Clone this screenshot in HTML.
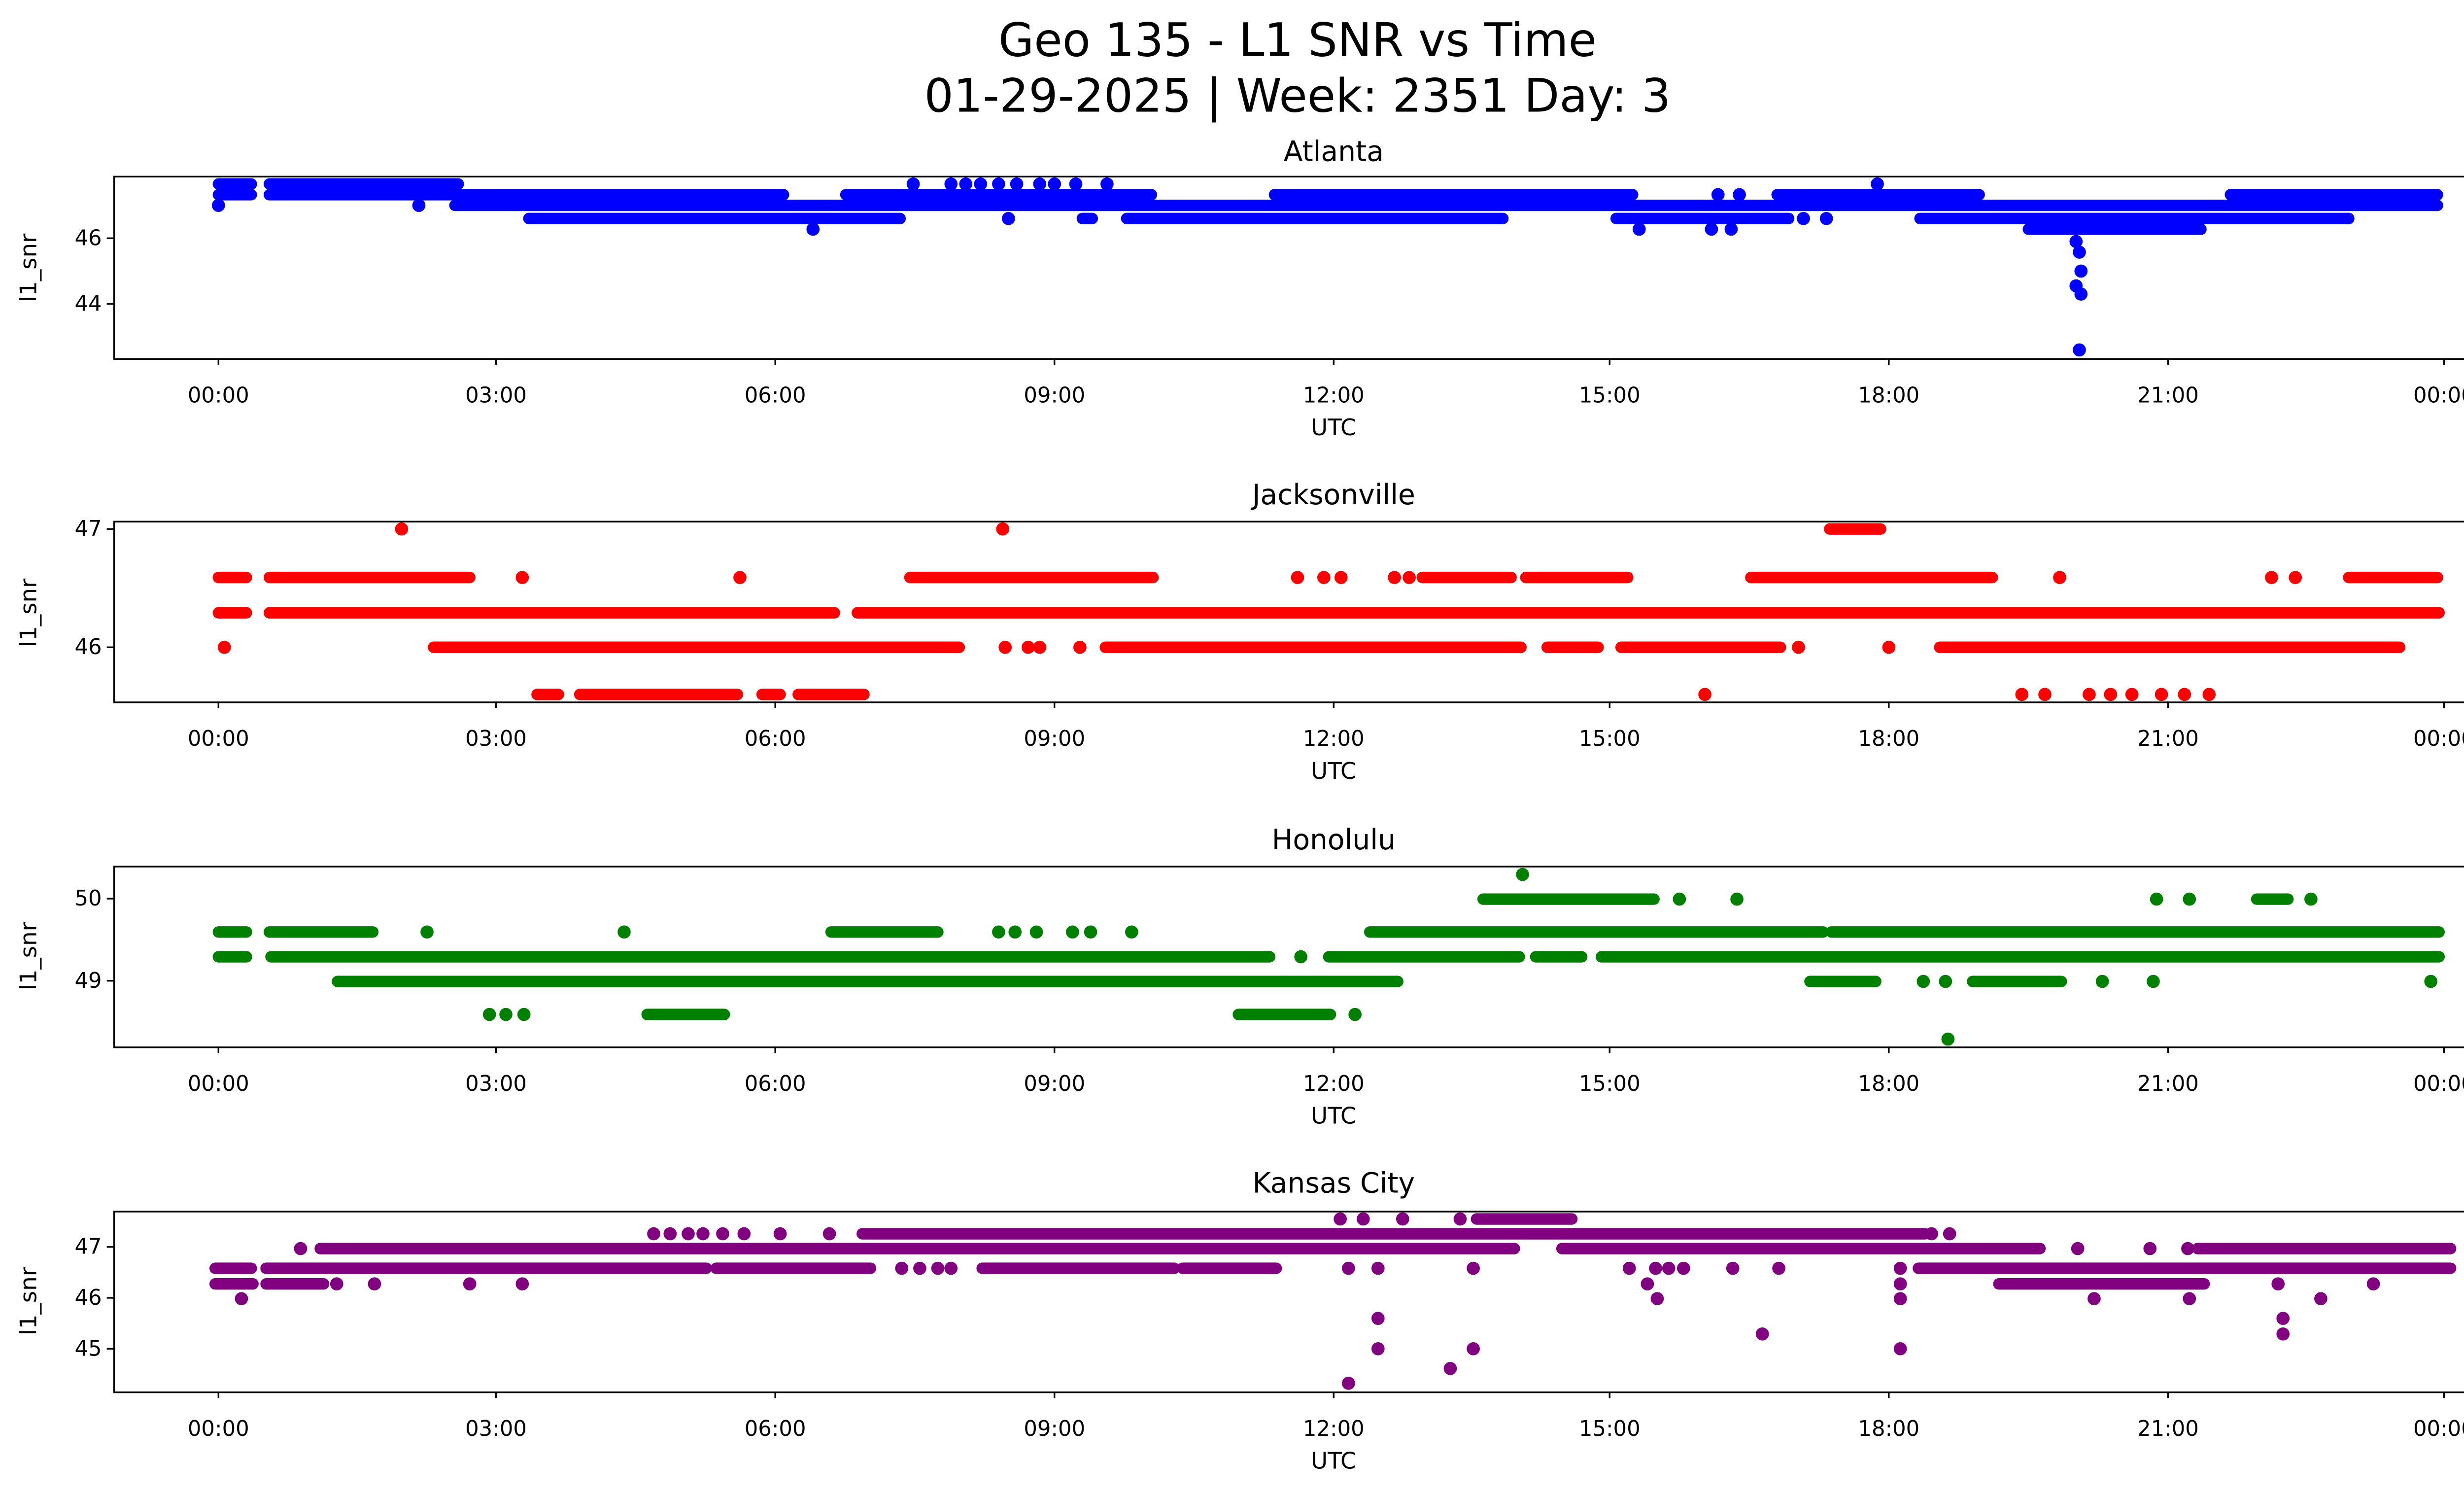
<!DOCTYPE html>
<html><head><meta charset="utf-8"><style>
html,body{margin:0;padding:0;background:#fff;}
svg{display:block;}
text{font-family:"DejaVu Sans","Liberation Sans",sans-serif;fill:#000;}
.t{font-size:13px;text-anchor:middle;}
.yl{font-size:13px;text-anchor:end;dominant-baseline:central;}
.lab{font-size:14px;text-anchor:middle;}
.st{font-size:17px;text-anchor:middle;}
.b line{stroke-width:7;stroke-linecap:round;}
</style></head><body>
<svg width="5226" height="3033" viewBox="0 0 1568 910" xmlns="http://www.w3.org/2000/svg">
<rect width="1568" height="910" fill="#fff"/>
<text x="790" y="34" style="font-size:28px;text-anchor:middle">Geo 135 - L1 SNR vs Time</text>
<text x="790" y="68" style="font-size:28px;text-anchor:middle">01-29-2025 | Week: 2351 Day: 3</text>

<!-- ATLANTA -->
<text class="st" x="812" y="98">Atlanta</text>
<g class="b" stroke="#0000ff" fill="#0000ff">
<line x1="133" y1="112" x2="153" y2="112"/><line x1="164" y1="112" x2="279" y2="112"/>
<line x1="133" y1="118.5" x2="153" y2="118.5"/><line x1="164" y1="118.5" x2="279" y2="118.5"/><line x1="277" y1="118.5" x2="477" y2="118.5"/><line x1="515" y1="118.5" x2="701" y2="118.5"/><line x1="776" y1="118.5" x2="994" y2="118.5"/><line x1="1082" y1="118.5" x2="1205" y2="118.5"/><line x1="1358" y1="118.5" x2="1484" y2="118.5"/>
<line x1="277" y1="125" x2="1484" y2="125"/>
<line x1="322" y1="133" x2="548" y2="133"/><line x1="686" y1="133" x2="915" y2="133"/><line x1="984" y1="133" x2="1089" y2="133"/><line x1="1169" y1="133" x2="1430" y2="133"/><line x1="659" y1="133" x2="665" y2="133"/>
<line x1="1235" y1="139.5" x2="1340" y2="139.5"/>
<circle cx="133" cy="125" r="3.5"/><circle cx="255" cy="125" r="3.5"/>
<circle cx="556" cy="112" r="3.5"/><circle cx="579" cy="112" r="3.5"/><circle cx="588" cy="112" r="3.5"/><circle cx="597" cy="112" r="3.5"/><circle cx="608" cy="112" r="3.5"/><circle cx="619" cy="112" r="3.5"/><circle cx="633" cy="112" r="3.5"/><circle cx="642" cy="112" r="3.5"/><circle cx="655" cy="112" r="3.5"/><circle cx="674" cy="112" r="3.5"/><circle cx="1143" cy="112" r="3.5"/>
<circle cx="1046" cy="118.5" r="3.5"/><circle cx="1059" cy="118.5" r="3.5"/>
<circle cx="614" cy="133" r="3.5"/><circle cx="1098" cy="133" r="3.5"/><circle cx="1112" cy="133" r="3.5"/>
<circle cx="495" cy="139.5" r="3.5"/><circle cx="998" cy="139.5" r="3.5"/><circle cx="1042" cy="139.5" r="3.5"/><circle cx="1054" cy="139.5" r="3.5"/>
<circle cx="1264" cy="147" r="3.5"/><circle cx="1266" cy="153.5" r="3.5"/><circle cx="1267" cy="165" r="3.5"/><circle cx="1264" cy="174" r="3.5"/><circle cx="1267" cy="179" r="3.5"/><circle cx="1266" cy="213" r="3.5"/>
</g>
<rect x="69.5" y="107.5" width="1486" height="111" fill="none" stroke="#000"/>
<text class="yl" x="62" y="145">46</text><text class="yl" x="62" y="185">44</text>
<line x1="65" y1="145" x2="69" y2="145" stroke="#000"/><line x1="65" y1="185" x2="69" y2="185" stroke="#000"/>
<text x="22" y="163" style="font-size:14px;text-anchor:middle" transform="rotate(-90 22 163)">l1_snr</text>
<g stroke="#000"><line x1="133" y1="218" x2="133" y2="222"/><line x1="302" y1="218" x2="302" y2="222"/><line x1="472" y1="218" x2="472" y2="222"/><line x1="642" y1="218" x2="642" y2="222"/><line x1="812" y1="218" x2="812" y2="222"/><line x1="980" y1="218" x2="980" y2="222"/><line x1="1150" y1="218" x2="1150" y2="222"/><line x1="1320" y1="218" x2="1320" y2="222"/><line x1="1488" y1="218" x2="1488" y2="222"/></g>
<g class="t"><text x="133" y="245">00:00</text><text x="302" y="245">03:00</text><text x="472" y="245">06:00</text><text x="642" y="245">09:00</text><text x="812" y="245">12:00</text><text x="980" y="245">15:00</text><text x="1150" y="245">18:00</text><text x="1320" y="245">21:00</text><text x="1488" y="245">00:00</text></g>
<text class="lab" x="812" y="265">UTC</text>

<!-- JACKSONVILLE -->
<text class="st" x="812" y="307">Jacksonville</text>
<g class="b" stroke="#ff0000" fill="#ff0000">
<circle cx="244.5" cy="322" r="3.5"/><circle cx="610.5" cy="322" r="3.5"/><line x1="1114" y1="322" x2="1145" y2="322"/>
<line x1="133" y1="351.5" x2="150" y2="351.5"/><line x1="164" y1="351.5" x2="286" y2="351.5"/><line x1="554" y1="351.5" x2="702" y2="351.5"/><line x1="866" y1="351.5" x2="920" y2="351.5"/><line x1="929" y1="351.5" x2="991" y2="351.5"/><line x1="1066" y1="351.5" x2="1213" y2="351.5"/><line x1="1430" y1="351.5" x2="1484" y2="351.5"/>
<circle cx="318" cy="351.5" r="3.5"/><circle cx="450.5" cy="351.5" r="3.5"/><circle cx="790" cy="351.5" r="3.5"/><circle cx="806" cy="351.5" r="3.5"/><circle cx="816.5" cy="351.5" r="3.5"/><circle cx="849" cy="351.5" r="3.5"/><circle cx="858" cy="351.5" r="3.5"/><circle cx="1254" cy="351.5" r="3.5"/><circle cx="1383" cy="351.5" r="3.5"/><circle cx="1397.5" cy="351.5" r="3.5"/>
<line x1="133" y1="373" x2="150" y2="373"/><line x1="164" y1="373" x2="508" y2="373"/><line x1="522" y1="373" x2="1485" y2="373"/>
<circle cx="136.6" cy="394" r="3.5"/><line x1="264" y1="394" x2="584" y2="394"/><circle cx="612" cy="394" r="3.5"/><circle cx="626" cy="394" r="3.5"/><circle cx="633" cy="394" r="3.5"/><circle cx="657.5" cy="394" r="3.5"/><line x1="673" y1="394" x2="926" y2="394"/><line x1="942" y1="394" x2="973" y2="394"/><line x1="987" y1="394" x2="1084" y2="394"/><circle cx="1095" cy="394" r="3.5"/><circle cx="1150" cy="394" r="3.5"/><line x1="1181" y1="394" x2="1461" y2="394"/>
<line x1="327" y1="422.7" x2="340" y2="422.7"/><line x1="353" y1="422.7" x2="449" y2="422.7"/><line x1="464" y1="422.7" x2="475" y2="422.7"/><line x1="486" y1="422.7" x2="526" y2="422.7"/>
<circle cx="1038" cy="422.7" r="3.5"/><circle cx="1231" cy="422.7" r="3.5"/><circle cx="1245" cy="422.7" r="3.5"/><circle cx="1272" cy="422.7" r="3.5"/><circle cx="1285" cy="422.7" r="3.5"/><circle cx="1298" cy="422.7" r="3.5"/><circle cx="1316" cy="422.7" r="3.5"/><circle cx="1330" cy="422.7" r="3.5"/><circle cx="1345" cy="422.7" r="3.5"/>
</g>
<rect x="69.5" y="317.5" width="1486" height="110" fill="none" stroke="#000"/>
<text class="yl" x="62" y="322">47</text><text class="yl" x="62" y="394">46</text>
<line x1="65" y1="322" x2="69" y2="322" stroke="#000"/><line x1="65" y1="394" x2="69" y2="394" stroke="#000"/>
<text x="22" y="373" style="font-size:14px;text-anchor:middle" transform="rotate(-90 22 373)">l1_snr</text>
<g stroke="#000"><line x1="133" y1="427" x2="133" y2="431"/><line x1="302" y1="427" x2="302" y2="431"/><line x1="472" y1="427" x2="472" y2="431"/><line x1="642" y1="427" x2="642" y2="431"/><line x1="812" y1="427" x2="812" y2="431"/><line x1="980" y1="427" x2="980" y2="431"/><line x1="1150" y1="427" x2="1150" y2="431"/><line x1="1320" y1="427" x2="1320" y2="431"/><line x1="1488" y1="427" x2="1488" y2="431"/></g>
<g class="t"><text x="133" y="454">00:00</text><text x="302" y="454">03:00</text><text x="472" y="454">06:00</text><text x="642" y="454">09:00</text><text x="812" y="454">12:00</text><text x="980" y="454">15:00</text><text x="1150" y="454">18:00</text><text x="1320" y="454">21:00</text><text x="1488" y="454">00:00</text></g>
<text class="lab" x="812" y="474">UTC</text>

<!-- HONOLULU -->
<text class="st" x="812" y="517">Honolulu</text>
<g class="b" stroke="#008000" fill="#008000">
<circle cx="927" cy="532.3" r="3.5"/>
<line x1="903" y1="547.3" x2="1007" y2="547.3"/><circle cx="1022.5" cy="547.3" r="3.5"/><circle cx="1057.5" cy="547.3" r="3.5"/><circle cx="1313" cy="547.3" r="3.5"/><circle cx="1333" cy="547.3" r="3.5"/><line x1="1374" y1="547.3" x2="1393" y2="547.3"/><circle cx="1407" cy="547.3" r="3.5"/>
<line x1="133" y1="567.3" x2="150" y2="567.3"/><line x1="164" y1="567.3" x2="227" y2="567.3"/><circle cx="260" cy="567.3" r="3.5"/><circle cx="380" cy="567.3" r="3.5"/><line x1="506" y1="567.3" x2="571" y2="567.3"/><circle cx="608" cy="567.3" r="3.5"/><circle cx="618" cy="567.3" r="3.5"/><circle cx="631" cy="567.3" r="3.5"/><circle cx="653" cy="567.3" r="3.5"/><circle cx="664" cy="567.3" r="3.5"/><circle cx="689" cy="567.3" r="3.5"/><line x1="834" y1="567.3" x2="1110" y2="567.3"/><line x1="1115" y1="567.3" x2="1485" y2="567.3"/>
<line x1="133" y1="582.4" x2="150" y2="582.4"/><line x1="165" y1="582.4" x2="773" y2="582.4"/><circle cx="792" cy="582.4" r="3.5"/><line x1="809" y1="582.4" x2="925" y2="582.4"/><line x1="935" y1="582.4" x2="963" y2="582.4"/><line x1="975" y1="582.4" x2="1485" y2="582.4"/>
<line x1="205.5" y1="597.4" x2="851" y2="597.4"/><line x1="1102" y1="597.4" x2="1142" y2="597.4"/><circle cx="1171" cy="597.4" r="3.5"/><circle cx="1184.5" cy="597.4" r="3.5"/><line x1="1201" y1="597.4" x2="1255" y2="597.4"/><circle cx="1280" cy="597.4" r="3.5"/><circle cx="1311" cy="597.4" r="3.5"/><circle cx="1480" cy="597.4" r="3.5"/>
<circle cx="298" cy="617.5" r="3.5"/><circle cx="308" cy="617.5" r="3.5"/><circle cx="319" cy="617.5" r="3.5"/><line x1="394" y1="617.5" x2="441" y2="617.5"/><line x1="754" y1="617.5" x2="810" y2="617.5"/><circle cx="825" cy="617.5" r="3.5"/>
<circle cx="1186" cy="632.5" r="3.5"/>
</g>
<rect x="69.5" y="527.5" width="1486" height="110" fill="none" stroke="#000"/>
<text class="yl" x="62" y="547">50</text><text class="yl" x="62" y="597">49</text>
<line x1="65" y1="547" x2="69" y2="547" stroke="#000"/><line x1="65" y1="597" x2="69" y2="597" stroke="#000"/>
<text x="22" y="582" style="font-size:14px;text-anchor:middle" transform="rotate(-90 22 582)">l1_snr</text>
<g stroke="#000"><line x1="133" y1="637" x2="133" y2="641"/><line x1="302" y1="637" x2="302" y2="641"/><line x1="472" y1="637" x2="472" y2="641"/><line x1="642" y1="637" x2="642" y2="641"/><line x1="812" y1="637" x2="812" y2="641"/><line x1="980" y1="637" x2="980" y2="641"/><line x1="1150" y1="637" x2="1150" y2="641"/><line x1="1320" y1="637" x2="1320" y2="641"/><line x1="1488" y1="637" x2="1488" y2="641"/></g>
<g class="t"><text x="133" y="664">00:00</text><text x="302" y="664">03:00</text><text x="472" y="664">06:00</text><text x="642" y="664">09:00</text><text x="812" y="664">12:00</text><text x="980" y="664">15:00</text><text x="1150" y="664">18:00</text><text x="1320" y="664">21:00</text><text x="1488" y="664">00:00</text></g>
<text class="lab" x="812" y="684">UTC</text>

<!-- KANSAS CITY -->
<text class="st" x="812" y="726">Kansas City</text>
<g class="b" stroke="#800080" fill="#800080">
<circle cx="816" cy="742" r="3.5"/><circle cx="830" cy="742" r="3.5"/><circle cx="854" cy="742" r="3.5"/><circle cx="889" cy="742" r="3.5"/><line x1="899" y1="742" x2="957" y2="742"/>
<circle cx="398" cy="751" r="3.5"/><circle cx="408" cy="751" r="3.5"/><circle cx="419" cy="751" r="3.5"/><circle cx="428" cy="751" r="3.5"/><circle cx="440" cy="751" r="3.5"/><circle cx="453" cy="751" r="3.5"/><circle cx="475" cy="751" r="3.5"/><circle cx="505" cy="751" r="3.5"/><line x1="525" y1="751" x2="1172" y2="751"/><circle cx="1176" cy="751" r="3.5"/><circle cx="1187" cy="751" r="3.5"/>
<circle cx="183" cy="760" r="3.5"/><line x1="195" y1="760" x2="922" y2="760"/><line x1="951" y1="760" x2="1242" y2="760"/><circle cx="1265" cy="760" r="3.5"/><circle cx="1309" cy="760" r="3.5"/><circle cx="1332" cy="760" r="3.5"/><line x1="1338" y1="760" x2="1492" y2="760"/>
<line x1="131" y1="772" x2="153" y2="772"/><line x1="162" y1="772" x2="430" y2="772"/><line x1="436" y1="772" x2="530" y2="772"/><circle cx="549" cy="772" r="3.5"/><circle cx="560" cy="772" r="3.5"/><circle cx="571" cy="772" r="3.5"/><circle cx="579" cy="772" r="3.5"/><line x1="598" y1="772" x2="715" y2="772"/><line x1="720" y1="772" x2="777" y2="772"/>
<circle cx="821" cy="772" r="3.5"/><circle cx="839" cy="772" r="3.5"/><circle cx="897" cy="772" r="3.5"/><circle cx="992" cy="772" r="3.5"/><circle cx="1008" cy="772" r="3.5"/><circle cx="1016" cy="772" r="3.5"/><circle cx="1025" cy="772" r="3.5"/><circle cx="1055" cy="772" r="3.5"/><circle cx="1083" cy="772" r="3.5"/><circle cx="1157" cy="772" r="3.5"/><line x1="1168" y1="772" x2="1492" y2="772"/>
<line x1="131" y1="781.5" x2="154" y2="781.5"/><line x1="162" y1="781.5" x2="197" y2="781.5"/><circle cx="205" cy="781.5" r="3.5"/><circle cx="228" cy="781.5" r="3.5"/><circle cx="286" cy="781.5" r="3.5"/><circle cx="318" cy="781.5" r="3.5"/><circle cx="1003" cy="781.5" r="3.5"/><circle cx="1157" cy="781.5" r="3.5"/><line x1="1217" y1="781.5" x2="1342" y2="781.5"/><circle cx="1387" cy="781.5" r="3.5"/><circle cx="1445" cy="781.5" r="3.5"/>
<circle cx="147" cy="790.5" r="3.5"/><circle cx="1009" cy="790.5" r="3.5"/><circle cx="1157" cy="790.5" r="3.5"/><circle cx="1275" cy="790.5" r="3.5"/><circle cx="1333" cy="790.5" r="3.5"/><circle cx="1413" cy="790.5" r="3.5"/>
<circle cx="839" cy="802.5" r="3.5"/><circle cx="1390" cy="802.5" r="3.5"/>
<circle cx="1073" cy="812" r="3.5"/><circle cx="1390" cy="812" r="3.5"/>
<circle cx="839" cy="821" r="3.5"/><circle cx="897" cy="821" r="3.5"/><circle cx="1157" cy="821" r="3.5"/>
<circle cx="883" cy="833" r="3.5"/><circle cx="821" cy="842" r="3.5"/>
</g>
<rect x="69.5" y="737.5" width="1486" height="110" fill="none" stroke="#000"/>
<text class="yl" x="62" y="759">47</text><text class="yl" x="62" y="790">46</text><text class="yl" x="62" y="821">45</text>
<line x1="65" y1="759" x2="69" y2="759" stroke="#000"/><line x1="65" y1="790" x2="69" y2="790" stroke="#000"/><line x1="65" y1="821" x2="69" y2="821" stroke="#000"/>
<text x="22" y="792" style="font-size:14px;text-anchor:middle" transform="rotate(-90 22 792)">l1_snr</text>
<g stroke="#000"><line x1="133" y1="847" x2="133" y2="851"/><line x1="302" y1="847" x2="302" y2="851"/><line x1="472" y1="847" x2="472" y2="851"/><line x1="642" y1="847" x2="642" y2="851"/><line x1="812" y1="847" x2="812" y2="851"/><line x1="980" y1="847" x2="980" y2="851"/><line x1="1150" y1="847" x2="1150" y2="851"/><line x1="1320" y1="847" x2="1320" y2="851"/><line x1="1488" y1="847" x2="1488" y2="851"/></g>
<g class="t"><text x="133" y="874">00:00</text><text x="302" y="874">03:00</text><text x="472" y="874">06:00</text><text x="642" y="874">09:00</text><text x="812" y="874">12:00</text><text x="980" y="874">15:00</text><text x="1150" y="874">18:00</text><text x="1320" y="874">21:00</text><text x="1488" y="874">00:00</text></g>
<text class="lab" x="812" y="894">UTC</text>
</svg>
</body></html>
